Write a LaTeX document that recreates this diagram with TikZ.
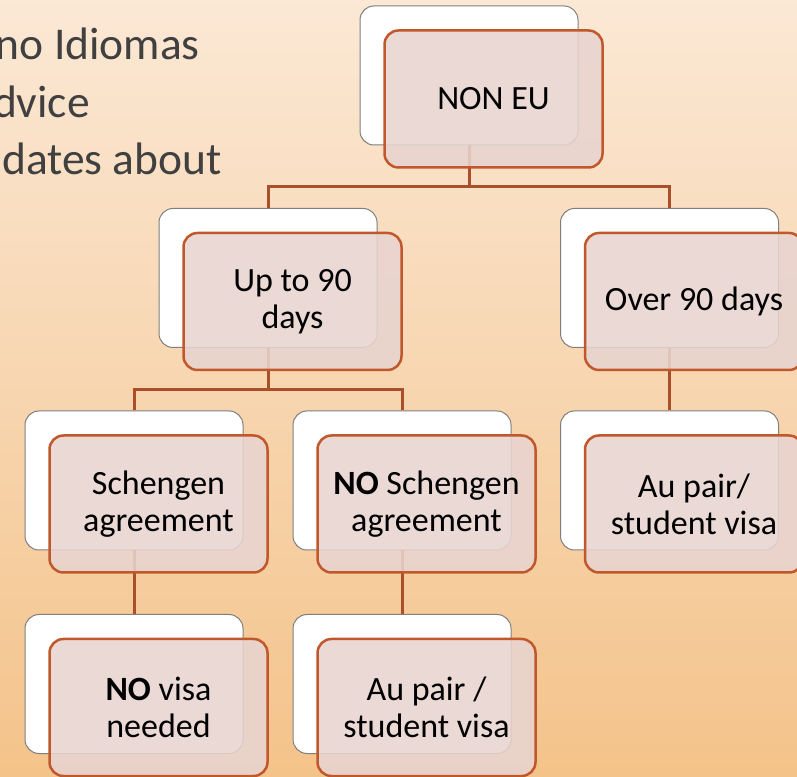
\documentclass[tikz,border=0pt]{standalone}
\usepackage{fontspec}
\setmainfont{Carlito}
\usepackage{tikz}
\definecolor{peachtop}{HTML}{FBE8D5}
\definecolor{peachbot}{HTML}{F4C38A}
\definecolor{rust}{HTML}{C0582C}
\definecolor{rustdark}{HTML}{A9502B}
\definecolor{rosefill}{HTML}{E8D4D0}
\definecolor{edgegray}{HTML}{7F7F7F}
\definecolor{slate}{HTML}{404040}

\begin{document}
\begin{tikzpicture}[x=1pt,y=1pt,
    backbox/.style={rectangle,rounded corners=14pt,draw=edgegray,line width=1pt,fill=white,minimum width=218pt,minimum height=139pt},
    frontbox/.style={rectangle,rounded corners=14pt,draw=rust,line width=2.5pt,fill=rosefill,fill opacity=0.88,text opacity=1,minimum width=218pt,minimum height=137pt,align=center,font=\fontsize{34}{37}\selectfont},
    link/.style={draw=rustdark,line width=3pt},
    side/.style={text=slate,inner sep=0pt,anchor=base east,font=\fontsize{45.5}{54}\selectfont}]

    \useasboundingbox (0,0) rectangle (797,776);
    \shade[top color=peachtop, bottom color=peachbot] (0,0) rectangle (797,776);

    % slide text, cut at the left edge
    \node[side]     (l1) at (200, 716)     {no Idiomas};
    \node[side]     (l2) at (90, 658)      {dvice};
    \node[side]     (l3) at (222, 601)     {dates about};

    % white boxes behind
    \node[backbox]  (nonEUbg)   at (469, 700.5)   {};
    \node[backbox]  (upbg)      at (268, 498)     {};
    \node[backbox]  (overbg)    at (669.5, 498)   {};
    \node[backbox]  (schbg)     at (134, 295.5)   {};
    \node[backbox]  (noschbg)   at (402, 295.5)   {};
    \node[backbox]  (aupairbg)  at (669.5, 295.5) {};
    \node[backbox]  (novisabg)  at (134, 92)      {};
    \node[backbox]  (studbg)    at (402, 92)      {};

    \draw[link] (nonEUbg.south) -- ++(0,-41) -| (upbg.north);
    \draw[link] (nonEUbg.south) -- ++(0,-41) -| (overbg.north);
    \draw[link] (upbg.south) -- ++(0,-42) -| (schbg.north);
    \draw[link] (upbg.south) -- ++(0,-42) -| (noschbg.north);
    \draw[link] (overbg.south) -- (aupairbg.north);
    \draw[link] (schbg.south) -- (novisabg.north);
    \draw[link] (noschbg.south) -- (studbg.north);

    % coloured boxes in front
    \node[frontbox] (nonEU)   at ([shift={(24.5,-23.5)}]nonEUbg)  {NON EU};
    \node[frontbox] (up)      at ([shift={(24.5,-23.5)}]upbg)     {Up to 90\\days};
    \node[frontbox] (over)    at ([shift={(24.5,-23.5)}]overbg)   {Over 90 days};
    \node[frontbox] (sch)     at ([shift={(24.5,-23.5)}]schbg)    {Schengen\\agreement};
    \node[frontbox] (nosch)   at ([shift={(24.5,-23.5)}]noschbg)  {\textbf{NO} Schengen\\agreement};
    \node[frontbox] (aupair)  at ([shift={(24.5,-23.5)}]aupairbg) {Au pair/\\student visa};
    \node[frontbox] (novisa)  at ([shift={(24.5,-23.5)}]novisabg) {\textbf{NO} visa\\needed};
    \node[frontbox] (stud)    at ([shift={(24.5,-23.5)}]studbg)   {Au pair /\\student visa};
\end{tikzpicture}
\end{document}
